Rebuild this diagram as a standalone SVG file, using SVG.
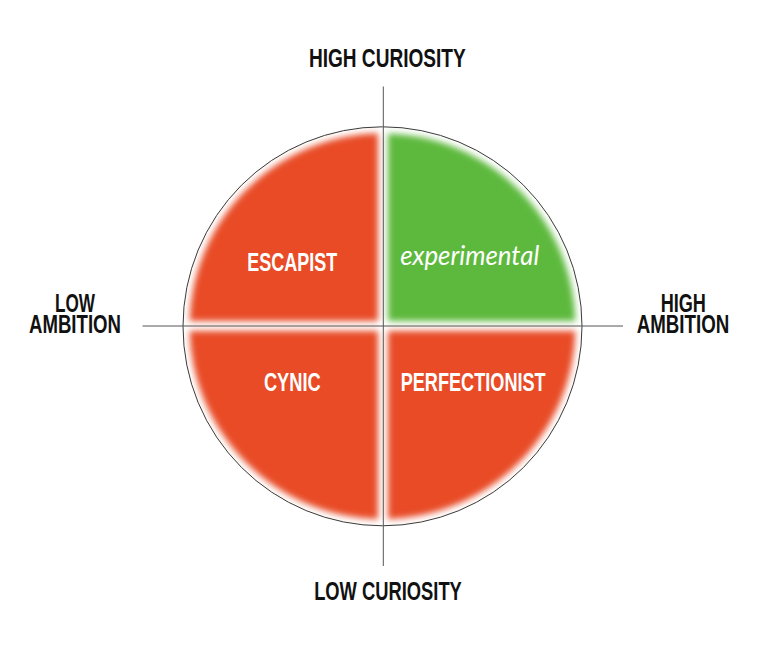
<svg xmlns="http://www.w3.org/2000/svg" width="768" height="662" viewBox="0 0 768 662">
  <style>
    .axis-label { font-family: "Liberation Sans Narrow", "Liberation Sans", Arial, sans-serif; font-weight: bold; font-size: 25px; fill: #111111; text-anchor: middle; }
    .quad-label { font-family: "Liberation Sans Narrow", "Liberation Sans", Arial, sans-serif; font-weight: bold; font-size: 26.5px; fill: #ffffff; text-anchor: middle; }
    .script-label { font-family: Lato, "Open Sans", sans-serif; font-style: italic; font-size: 27px; fill: #ffffff; text-anchor: middle; }
    .axis { stroke: #555555; stroke-width: 1; fill: none; }
    .outline { stroke: #3a3a3a; stroke-width: 1; fill: none; }
    .red { fill: #e84b28; }
    .green { fill: #5db93c; }
  </style>
  <defs>
    <filter id="soft" x="-10%" y="-10%" width="120%" height="120%">
      <feGaussianBlur stdDeviation="3"/>
    </filter>
    <clipPath id="cTL"><rect x="150" y="100" width="228" height="221"/></clipPath>
    <clipPath id="cTR"><rect x="388" y="100" width="220" height="221"/></clipPath>
    <clipPath id="cBL"><rect x="150" y="331" width="228" height="220"/></clipPath>
    <clipPath id="cBR"><rect x="388" y="331" width="220" height="220"/></clipPath>
  </defs>
  <rect width="768" height="662" fill="#ffffff"/>

  <g id="escapist">
    <g filter="url(#soft)"><circle class="red" cx="382.5" cy="326.3" r="193" clip-path="url(#cTL)"/></g>
    <text class="quad-label" x="292.3" y="270.7" textLength="90" lengthAdjust="spacingAndGlyphs">ESCAPIST</text>
  </g>
  <g id="experimental">
    <g filter="url(#soft)"><circle class="green" cx="382.5" cy="326.3" r="193" clip-path="url(#cTR)"/></g>
    <text class="script-label" x="469.7" y="265" textLength="139" lengthAdjust="spacingAndGlyphs">experimental</text>
  </g>
  <g id="cynic">
    <g filter="url(#soft)"><circle class="red" cx="382.5" cy="326.3" r="193" clip-path="url(#cBL)"/></g>
    <text class="quad-label" x="292.3" y="390.7" textLength="56.7" lengthAdjust="spacingAndGlyphs">CYNIC</text>
  </g>
  <g id="perfectionist">
    <g filter="url(#soft)"><circle class="red" cx="382.5" cy="326.3" r="193" clip-path="url(#cBR)"/></g>
    <text class="quad-label" x="473.2" y="390.7" textLength="145" lengthAdjust="spacingAndGlyphs">PERFECTIONIST</text>
  </g>

  <g id="connectors">
    <circle class="outline" cx="382.5" cy="326.3" r="199.5"/>
    <line class="axis" x1="383.3" y1="86.5" x2="383.3" y2="566"/>
    <line class="axis" x1="142.5" y1="326" x2="623" y2="326"/>
  </g>

  <g id="high-curiosity">
    <text class="axis-label" x="387.3" y="66.7" textLength="156.7" lengthAdjust="spacingAndGlyphs">HIGH CURIOSITY</text>
  </g>
  <g id="low-curiosity">
    <text class="axis-label" x="388" y="600" textLength="147.7" lengthAdjust="spacingAndGlyphs">LOW CURIOSITY</text>
  </g>
  <g id="low-ambition">
    <text class="axis-label" x="75" y="311.7" textLength="40" lengthAdjust="spacingAndGlyphs">LOW</text>
    <text class="axis-label" x="75" y="333.3" textLength="92" lengthAdjust="spacingAndGlyphs">AMBITION</text>
  </g>
  <g id="high-ambition">
    <text class="axis-label" x="683.3" y="311.7" textLength="45.3" lengthAdjust="spacingAndGlyphs">HIGH</text>
    <text class="axis-label" x="683" y="333.3" textLength="92.6" lengthAdjust="spacingAndGlyphs">AMBITION</text>
  </g>
</svg>
